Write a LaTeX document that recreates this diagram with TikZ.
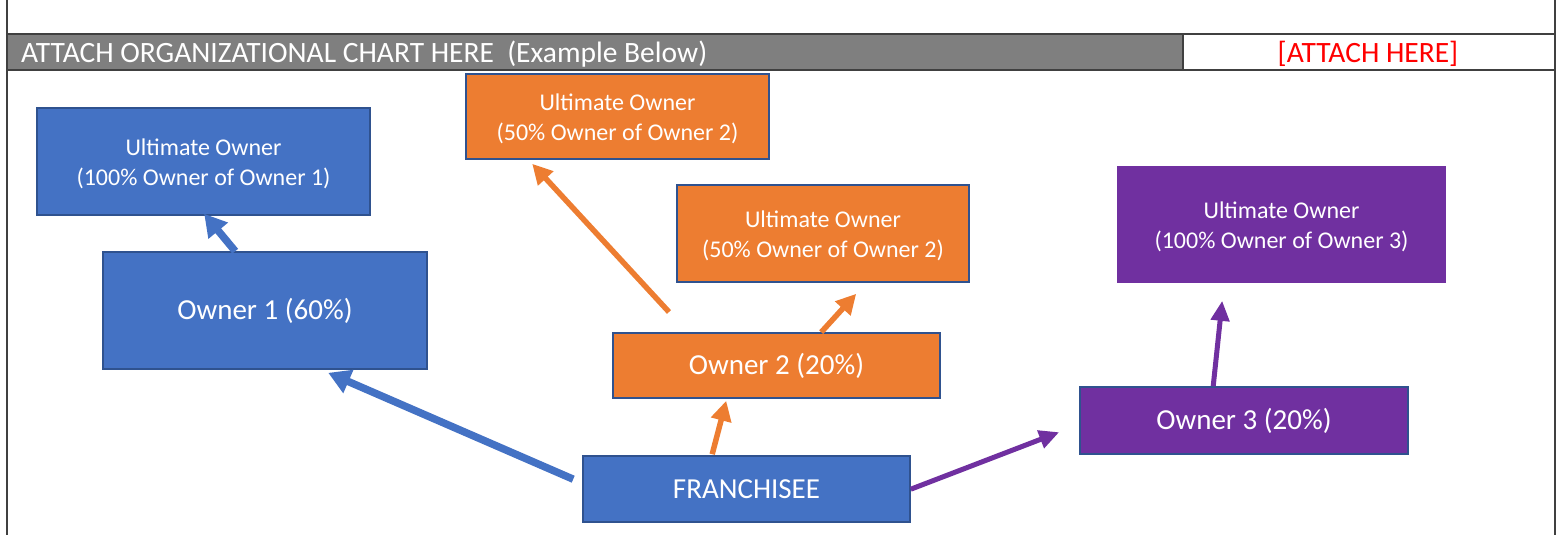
\documentclass[tikz,border=0pt]{standalone}
\usepackage{fontspec}
\setmainfont{Carlito}
\usetikzlibrary{arrows.meta,calc}
\definecolor{cblue}{HTML}{4472C4}
\definecolor{cbord}{HTML}{2F528F}
\definecolor{corange}{HTML}{ED7D31}
\definecolor{cpurple}{HTML}{7030A0}
\definecolor{cframe}{HTML}{404040}
\definecolor{chead}{HTML}{7F7F7F}
\newcommand{\boxtxt}[1]{\raisebox{-3pt}[\height][\depth]{\begin{tabular}{@{}c@{}}#1\end{tabular}}}
\tikzset{
  box/.style={draw=cbord, line width=1.6pt, inner sep=0pt, text=white, align=center, font=\fontsize{24}{30}\selectfont},
  bigbox/.style={box, font=\fontsize{29}{30}\selectfont},
  frameline/.style={draw=cframe, line width=2.2pt},
  barrow/.style={draw=cblue, line width=7.5pt, -{Triangle[width=24pt,length=22pt]}},
  oarrow/.style={draw=corange, line width=5.5pt, -{Triangle[width=20pt,length=20pt]}},
  parrow/.style={draw=cpurple, line width=5pt, -{Triangle[width=18pt,length=20pt]}},
}
\begin{document}
\begin{tikzpicture}[x=1pt,y=-1pt]
\useasboundingbox (0,0) rectangle (1561,535);
% header
\fill[chead] (7,34) rectangle (1183,70);
\draw[frameline] (7,0) -- (7,535);
\draw[frameline] (1555,0) -- (1555,535);
\draw[frameline] (7,34) -- (1555,34);
\draw[frameline] (7,70) -- (1555,70);
\draw[frameline] (1183,34) -- (1183,70);
\node[anchor=west, text=white, inner sep=0pt, font=\fontsize{29.5}{30}\selectfont] (hdr) at (21,54) {ATTACH ORGANIZATIONAL CHART HERE~~(Example Below)};
\node[text=red, inner sep=0pt, font=\fontsize{29.5}{30}\selectfont] (att) at (1368,54) {[ATTACH HERE]};
% boxes
\node[box, fill=cblue, minimum width=333pt, minimum height=107pt] (uo1) at (203.5,161.5) {\boxtxt{Ultimate Owner\\(100\% Owner of Owner 1)}};
\node[bigbox, fill=cblue, minimum width=324pt, minimum height=117pt] (o1) at (265,310.5) {\boxtxt{Owner 1 (60\%)}};
\node[box, fill=corange, minimum width=303pt, minimum height=85pt] (uo2a) at (617.5,116.5) {\boxtxt{Ultimate Owner\\(50\% Owner of Owner 2)}};
\node[box, fill=corange, minimum width=292pt, minimum height=97pt] (uo2b) at (823,233.5) {\boxtxt{Ultimate Owner\\(50\% Owner of Owner 2)}};
\node[bigbox, fill=corange, minimum width=327pt, minimum height=65pt] (o2) at (776.5,365.5) {\boxtxt{Owner 2 (20\%)}};
\node[box, draw=none, fill=cpurple, minimum width=329pt, minimum height=117pt] (uo3) at (1281.5,224.5) {\boxtxt{Ultimate Owner\\(100\% Owner of Owner 3)}};
\node[bigbox, fill=cpurple, minimum width=328pt, minimum height=67pt] (o3) at (1244,420.5) {\boxtxt{Owner 3 (20\%)}};
\node[bigbox, fill=cblue, minimum width=327pt, minimum height=66pt] (fr) at (746.5,489) {\boxtxt{FRANCHISEE}};
% arrows
\coordinate (free2) at (669,312);
\draw[barrow] ($(o1.north west)+(133,0)$) -- ($(uo1.south west)+(168,-2)$);
\draw[barrow] ($(fr.north west)+(-9,24)$) -- ($(o1.south west)+(226,3)$);
\draw[oarrow] ($(fr.north west)+(130,-1)$) -- ($(o2.south west)+(114,2)$);
\draw[oarrow] (free2) -- ($(uo2a.south west)+(67,4)$);
\draw[oarrow] ($(o2.north west)+(209,0)$) -- ($(uo2b.south west)+(180,11)$);
\draw[parrow] ($(fr.north east)+(0,34)$) -- ($(o3.north west)+(-20,46)$);
\draw[parrow] ($(o3.north west)+(134,0)$) -- ($(uo3.south west)+(106,17)$);
\end{tikzpicture}
\end{document}
